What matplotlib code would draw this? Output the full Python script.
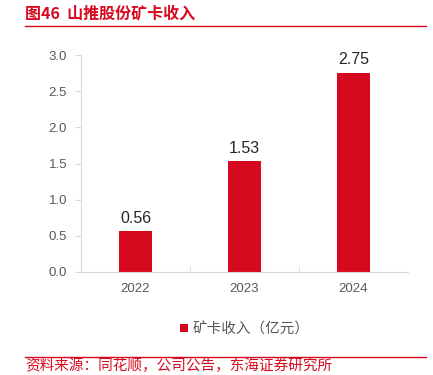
import matplotlib.pyplot as plt
from matplotlib.lines import Line2D

plt.rcParams['font.family'] = ['Noto Sans CJK SC', 'DejaVu Sans']

years = ['2022', '2023', '2024']
revenue = [0.56, 1.53, 2.75]
yticks = [0.0, 0.5, 1.0, 1.5, 2.0, 2.5, 3.0]

red = '#D7091F'
grey = '#595959'
spine = '#D9D9D9'
num_font = ['Liberation Sans', 'DejaVu Sans']

fig = plt.figure(figsize=(4.33, 3.75), dpi=100)
ax = fig.add_axes([81 / 433, 1 - 272 / 375, 327 / 433, 217 / 375])

x = list(range(len(years)))
ax.bar(x, revenue, width=0.3, color=red, label='矿卡收入（亿元）')
for xi, v in zip(x, revenue):
    ax.text(xi, v + 0.08, f'{v:.2f}', ha='center', va='bottom', fontsize=11.5,
            color='#262626', family=num_font)

ax.set_xlim(-0.5, 2.5)
ax.set_ylim(0, 3.0)
ax.set_yticks(yticks)
ax.set_yticklabels([f'{t:.1f}' for t in yticks], family=num_font)
ax.set_xticks(x)
ax.set_xticklabels(years, family=num_font)
ax.set_xticks([0.5, 1.5], minor=True)
ax.tick_params(axis='y', labelsize=9.5, colors=grey, length=4, color=spine, pad=6)
ax.tick_params(axis='x', which='major', labelsize=9.5, colors=grey, length=0, pad=8)
ax.tick_params(axis='x', which='minor', length=4, color=spine, direction='in')
for s in ['top', 'right']:
    ax.spines[s].set_visible(False)
for s in ['left', 'bottom']:
    ax.spines[s].set_color(spine)

leg = ax.legend(loc='upper center', bbox_to_anchor=(0.5, -0.17), frameon=False,
                fontsize=10.5, handlelength=0.55, handleheight=0.55, handletextpad=0.3)
for t in leg.get_texts():
    t.set_color(grey)

fig.text(25 / 433, 1 - 14 / 375, '图46  山推股份矿卡收入', color=red, fontsize=11.5,
         fontweight='bold', va='center', ha='left')
fig.add_artist(Line2D([25 / 433, 426 / 433], [1 - 25.5 / 375] * 2, color=red, lw=1))
fig.add_artist(Line2D([25 / 433, 426 / 433], [1 - 357 / 375] * 2, color=red, lw=1))
fig.text(25 / 433, 1 - 373 / 375, '资料来源：同花顺，公司公告，东海证券研究所', color=red,
         fontsize=10.5, va='bottom', ha='left')

fig.savefig('out.png', dpi=100)
